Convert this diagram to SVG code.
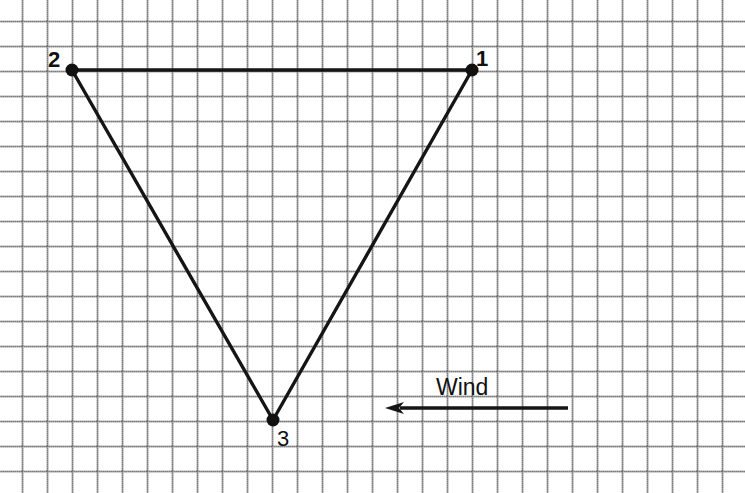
<svg xmlns="http://www.w3.org/2000/svg" width="745" height="493" viewBox="0 0 745 493">
<defs>
<pattern id="grid" x="21.7" y="20.7" width="25" height="25" patternUnits="userSpaceOnUse">
<path d="M0 0.75H25M0.75 0V25" fill="none" stroke="#4a4a4a" stroke-width="1.5" stroke-dasharray="1.5 0.5"/>
</pattern>
<style>
.edge{stroke:#151515;stroke-width:3.4;fill:none;stroke-linecap:round}
.dot{fill:#111}
.lbl{font-family:"Liberation Sans",Arial,sans-serif;font-size:22px;fill:#111}
.b{font-weight:bold}
</style>
</defs>
<rect width="745" height="493" fill="#fff"/>
<rect x="-0.75" y="-0.75" width="746" height="494" fill="url(#grid)"/>
<g id="connectors">
<line class="edge" x1="72" y1="70" x2="472" y2="70"/>
<line class="edge" x1="472" y1="70" x2="273" y2="420"/>
<line class="edge" x1="273" y1="420" x2="72" y2="70"/>
<line class="edge" x1="568" y1="408" x2="400" y2="408" style="stroke-linecap:butt"/>
<path d="M385 408L404 402L399 408L404 414Z" fill="#151515"/>
</g>
<g id="node1"><circle class="dot" cx="472" cy="70" r="6.5"/><text class="lbl b" x="476" y="66">1</text></g>
<g id="node2"><circle class="dot" cx="72" cy="70" r="6.5"/><text class="lbl b" x="48" y="67">2</text></g>
<g id="node3"><circle class="dot" cx="273" cy="420" r="6.5"/><text class="lbl" x="277" y="446">3</text></g>
<g id="wind"><text class="lbl" x="436" y="395" style="font-size:23px">Wind</text></g>
</svg>
